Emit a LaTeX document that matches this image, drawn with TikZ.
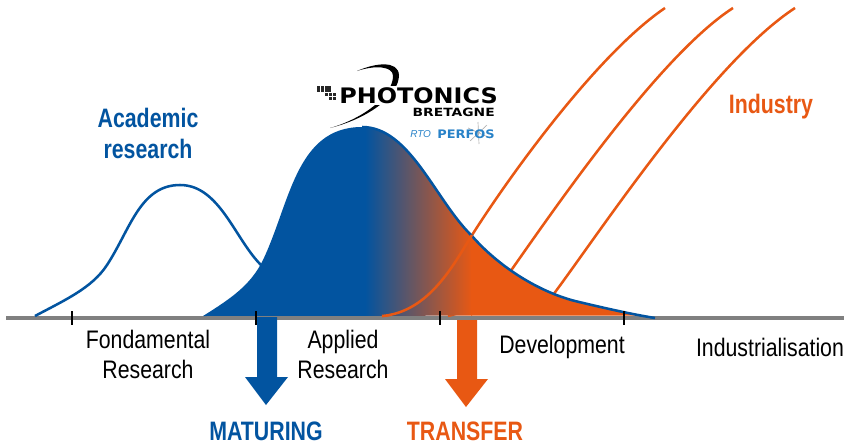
\documentclass[tikz,border=0pt]{standalone}
\usepackage{fontspec}
\setmainfont{Liberation Sans}
\newfontfamily\narrowf[FakeStretch=0.84]{Liberation Sans}
\newfontfamily\narrowb[FakeStretch=0.80]{Liberation Sans Bold}
\newfontfamily\logof[FakeStretch=1.12]{DejaVu Sans Bold}
\newfontfamily\logos[FakeStretch=1.22]{DejaVu Sans Bold}
\newfontfamily\logop[FakeStretch=1.1]{DejaVu Sans Bold}
\definecolor{pbblue}{RGB}{2,84,160}
\definecolor{pborange}{RGB}{232,88,19}
\definecolor{axisgray}{RGB}{128,128,128}
\definecolor{logoblue}{RGB}{40,130,200}
\tikzset{
  lab/.style={font=\narrowf\fontsize{19}{22.5}\selectfont,align=center,text=black,inner sep=0pt},
  blab/.style={font=\narrowb\fontsize{20}{23.2}\selectfont,align=center,text=pbblue,inner sep=0pt},
  olab/.style={font=\narrowb\fontsize{20}{23.2}\selectfont,align=center,text=pborange,inner sep=0pt},
  orangecurve/.style={line width=1.9pt,pborange},
  bluecurve/.style={line width=1.9pt,pbblue},
}
\begin{document}
\begin{tikzpicture}[x=0.75pt,y=-0.75pt]
\useasboundingbox (0,0) rectangle (844,447);
% axis
\draw[line width=3pt,axisgray] (6,317.5) -- (844,317.5);
% orange rising curves
\draw[orangecurve] (382,316) .. controls (430,312) and (455,262) .. (474,232) .. controls (515,168) and (600,52) .. (665,8);
\draw[orangecurve] (448,316) .. controls (475,310) and (495,292) .. (510,272) .. controls (555,208) and (660,55) .. (733,8);
\draw[orangecurve] (553,295) .. controls (600,232) and (712,62) .. (795,8);
% bell filled
\begin{scope}
\clip (203,316) .. controls (232,298) and (250,285) .. (262,262) .. controls (290,205) and (295,127) .. (362,127) .. controls (410,127) and (435,200) .. (472,236) .. controls (500,268) and (540,292) .. (575,301) .. controls (600,307) and (620,312) .. (640,315.5) -- cycle;
\fill[pbblue] (200,120) rectangle (366,320);
\shade[left color=pbblue,right color=pborange,shading=axis,shading angle=90] (365,120) rectangle (472,320);
\fill[pborange] (471,120) rectangle (660,320);
\end{scope}
\draw[bluecurve] (362,127) .. controls (410,127) and (435,200) .. (472,236) .. controls (500,268) and (540,292) .. (575,301) .. controls (600,307) and (630,314) .. (655,318);
\draw[orangecurve] (382,316) .. controls (430,312) and (455,262) .. (472,235);
% academic
\draw[bluecurve] (35,316) .. controls (65,300) and (92,288) .. (107,265) .. controls (130,230) and (140,185) .. (180,185) .. controls (220,185) and (235,240) .. (262,266);
% arrows
\fill[pbblue] (257,317) -- (277,317) -- (277,377) -- (288,377) -- (266,405) -- (245,377) -- (257,377) -- cycle;
\fill[pborange] (457,320) -- (477,320) -- (477,379) -- (488,379) -- (466,407) -- (445,379) -- (457,379) -- cycle;
% ticks
\foreach \x/\n in {72/t1,256/t2,440/t3,624/t4}{
  \fill[black] (\x-1.4,311) rectangle (\x+1.4,325);
}
% labels
\node[lab] (fund) at (148,354.5) {Fondamental\\Research};
\node[lab] (appl) at (343,354.5) {Applied\\Research};
\node[lab] (dev) at (562,347) {Development};
\node[lab] (ind) at (770,347) {Industrialisation};
\node[blab] (acad) at (148,133) {Academic\\research};
\node[olab] (indus) at (771,107) {Industry};
\node[blab] (mat) at (266,431) {MATURING};
\node[olab] (tra) at (465,431) {TRANSFER};
% logo
\fill[black] (357,71) .. controls (375,63) and (398,60) .. (399,75) .. controls (399,95) and (370,118) .. (330,128) .. controls (365,118) and (393,95) .. (393,76) .. controls (393,66) and (375,65) .. (357,71) -- cycle;
\foreach \i in {0,1,2,3}{\foreach \j in {0,1}{
  \fill[black!85] (317+3.8*\i,85.5+3.8*\j) rectangle +(3,3);}}
\foreach \i in {0,1,2}{\fill[black!85] (325+3.8*\i,93.2) rectangle +(3,3);}
\foreach \i in {0,1}{\fill[black!85] (328.8+3.8*\i,97) rectangle +(3,3);}
\fill[white] (339,86) rectangle (496,105);
\node[inner sep=0pt,anchor=west,font=\logof\fontsize{16}{18}\selectfont] (ph) at (339,96) {PHOTONICS};
\node[inner sep=0pt,anchor=east,font=\logos\fontsize{8.5}{10}\selectfont] (br) at (495,112) {BRETAGNE};
\draw[black!30,line width=.5pt] (470,141) -- (487,125) (478,122) -- (479,144) (468,128) -- (490,138);
\node[inner sep=0pt,anchor=west,text=logoblue,font=\itshape\fontsize{7.5}{10}\selectfont] (rto) at (410,134) {RTO};
\node[inner sep=0pt,anchor=east,text=logoblue,font=\logop\fontsize{8.8}{10}\selectfont] (pf) at (495,134) {PERFOS};
\end{tikzpicture}
\end{document}
